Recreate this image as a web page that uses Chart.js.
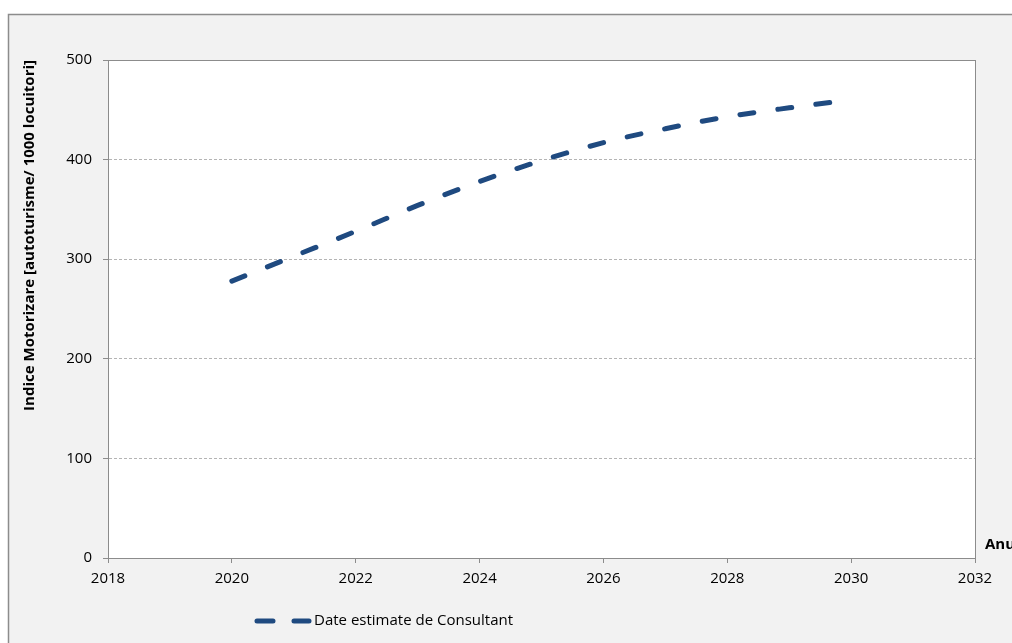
<!DOCTYPE html>
<html>
<head>
<meta charset="utf-8">
<script src="https://cdn.jsdelivr.net/npm/chart.js@4/dist/chart.umd.min.js"></script>
<style>
  body { margin: 0; background: #ffffff; }
  #motorChart { display: block; }
</style>
</head>
<body>
<canvas id="motorChart" width="1012" height="643"></canvas>
<script>
// indice motorizare, estimari anuale
const years = [2020, 2021, 2022, 2023, 2024, 2025, 2026, 2027, 2028, 2029, 2030];
const indexValues = [278, 303, 328, 354, 378, 399, 417, 431, 443, 452, 460];

const xMin = 2018;
const xMax = 2032;
const yMin = 0;
const yMax = 500;

const seriesLabel = "Date estimate de Consultant";
const yTitle = "Indice Motorizare [autoturisme/ 1000 locuitori]";
const xTitle = "Anul";

const lineColor = "#1f4a80";
const fontFamily = "'Open Sans', 'DejaVu Sans', sans-serif";

// fundalul graficului, chenarul exterior si chenarul zonei de desen
const framePlugin = {
  id: "frame",
  beforeDraw(chart) {
    const ctx = chart.ctx;
    const area = chart.chartArea;
    ctx.save();
    ctx.fillStyle = "#ffffff";
    ctx.fillRect(0, 0, chart.width, chart.height);
    ctx.fillStyle = "#f2f2f2";
    ctx.fillRect(8, 14, chart.width, chart.height);
    ctx.strokeStyle = "#8c8c8c";
    ctx.lineWidth = 1.5;
    ctx.strokeRect(8.5, 14.5, chart.width + 10, chart.height + 10);
    ctx.fillStyle = "#ffffff";
    ctx.fillRect(area.left, area.top, area.right - area.left, area.bottom - area.top);
    ctx.restore();
  },
  beforeDatasetsDraw(chart) {
    const ctx = chart.ctx;
    const area = chart.chartArea;
    ctx.save();
    ctx.strokeStyle = "#8c8c8c";
    ctx.lineWidth = 1;
    ctx.strokeRect(Math.round(area.left) + 0.5, Math.round(area.top) + 0.5,
      Math.round(area.right - area.left), Math.round(area.bottom - area.top));
    ctx.restore();
  },
  afterDraw(chart) {
    const ctx = chart.ctx;
    const area = chart.chartArea;
    const ds = chart.data.datasets[0];
    ctx.save();
    // titlul axei X, in dreapta zonei de desen
    ctx.font = "bold 15px " + fontFamily;
    ctx.fillStyle = "#000000";
    ctx.textBaseline = "alphabetic";
    ctx.fillText(xTitle, area.right + 10, area.bottom - 9);

    // legenda
    const lx = 255, ly = 621;
    ctx.strokeStyle = ds.borderColor;
    ctx.lineWidth = ds.borderWidth;
    ctx.lineCap = "round";
    ctx.setLineDash([16, 21]);
    ctx.beginPath();
    ctx.moveTo(lx + 2, ly);
    ctx.lineTo(lx + 54, ly);
    ctx.stroke();
    ctx.setLineDash([]);
    ctx.font = "15px " + fontFamily;
    ctx.textBaseline = "middle";
    ctx.fillText(ds.label, lx + 59, ly);
    ctx.restore();
  }
};

const chart = new Chart(document.getElementById("motorChart"), {
  type: "line",
  data: {
    datasets: [{
      label: seriesLabel,
      data: years.map((y, i) => ({ x: y, y: indexValues[i] })),
      borderColor: lineColor,
      borderWidth: 5,
      borderDash: [14, 24.3],
      borderCapStyle: "round",
      cubicInterpolationMode: "monotone",
      pointRadius: 0,
      fill: false
    }]
  },
  options: {
    responsive: false,
    animation: false,
    events: [],
    layout: { padding: { top: 60, right: 37, bottom: 0, left: 0 } },
    plugins: {
      legend: { display: false },
      tooltip: { enabled: false }
    },
    scales: {
      x: {
        type: "linear",
        min: xMin,
        max: xMax,
        afterFit: (s) => { s.height = 85; },
        ticks: {
          stepSize: 2,
          color: "#000000",
          padding: 7,
          font: { family: fontFamily, size: 15 },
          callback: (v) => String(v)
        },
        grid: {
          drawOnChartArea: false,
          drawTicks: true,
          tickLength: 5,
          tickColor: "#8c8c8c"
        },
        border: { color: "#8c8c8c" }
      },
      y: {
        min: yMin,
        max: yMax,
        afterFit: (s) => { s.width = 108; },
        ticks: {
          stepSize: 100,
          color: "#000000",
          padding: 11,
          font: { family: fontFamily, size: 15 }
        },
        grid: {
          color: "#b4b4b4",
          tickColor: "#8c8c8c",
          tickLength: 5,
          tickBorderDash: [1, 0]
        },
        border: { color: "#8c8c8c", dash: [3, 2] },
        title: {
          display: true,
          text: yTitle,
          align: "end",
          color: "#000000",
          padding: { top: 21, bottom: 0 },
          font: { family: fontFamily, size: 15, weight: "bold" }
        }
      }
    }
  },
  plugins: [framePlugin]
});
</script>
</body>
</html>
